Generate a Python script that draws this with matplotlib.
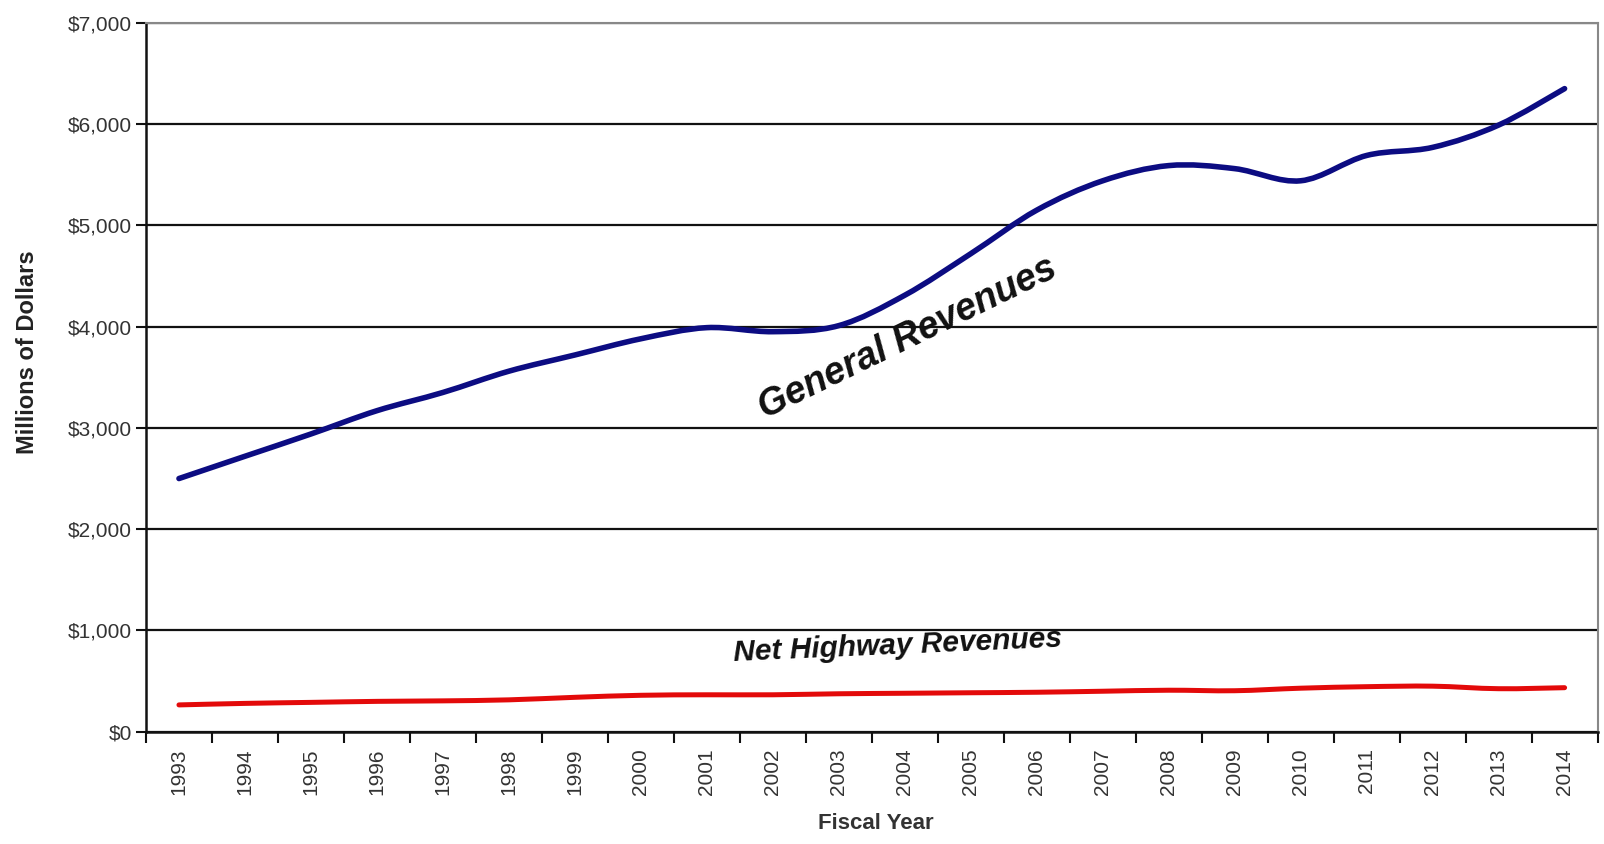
import numpy as np
import matplotlib
matplotlib.use('Agg')
import matplotlib.pyplot as plt
from matplotlib.path import Path
from matplotlib.patches import PathPatch
from matplotlib.ticker import FixedLocator, FuncFormatter

# ── data (millions of dollars) ──────────────────────────────────────────────
years = [str(y) for y in range(1993, 2015)]
general_rev = [2500, 2720, 2940, 3170, 3350, 3560, 3720, 3880, 3990, 3950,
               4010, 4310, 4720, 5150, 5440, 5590, 5560, 5440, 5690, 5770,
               5990, 6350]
highway_rev = [265, 280, 290, 300, 305, 315, 340, 360, 365, 365,
               375, 380, 385, 390, 400, 410, 405, 430, 445, 450,
               425, 435]


def smooth_path(xs, ys, tension=1 / 6):
    """Excel-style smoothed line: Catmull-Rom segments as cubic Beziers."""
    pts = np.column_stack([xs, ys]).astype(float)
    n = len(pts)
    verts = [pts[0]]
    codes = [Path.MOVETO]
    for i in range(n - 1):
        p0 = pts[i - 1] if i > 0 else pts[i]
        p1, p2 = pts[i], pts[i + 1]
        p3 = pts[i + 2] if i + 2 < n else pts[i + 1]
        c1 = p1 + (p2 - p0) * tension
        c2 = p2 - (p3 - p1) * tension
        verts += [c1, c2, p2]
        codes += [Path.CURVE4] * 3
    return Path(verts, codes)


plt.rcParams['font.family'] = ['Liberation Sans', 'DejaVu Sans']

fig = plt.figure(figsize=(16.04, 8.44), dpi=100)
ax = fig.add_axes([0.091, 0.133, 0.905, 0.840])

x = np.arange(len(years))
for vals, col, lw in [(general_rev, '#0c0c82', 4.0), (highway_rev, '#e30a0a', 3.6)]:
    ax.add_patch(PathPatch(smooth_path(x, vals), fill=False, edgecolor=col,
                           lw=lw, capstyle='round', joinstyle='round', zorder=3))

ax.set_xlim(-0.5, len(years) - 0.5)
ax.set_ylim(0, 7000)

# gridlines
ax.set_yticks(np.arange(0, 7001, 1000))
ax.yaxis.set_major_formatter(FuncFormatter(lambda v, p: f'${v:,.0f}'))
ax.grid(axis='y', color='#111111', lw=1.6, zorder=1)
ax.tick_params(axis='y', length=7, width=1.5, color='#111111',
               labelsize=15, labelcolor='#333333', pad=3)

# category axis: ticks between categories, labels centred
ax.xaxis.set_major_locator(FixedLocator(np.arange(-0.5, len(years), 1.0)))
ax.xaxis.set_major_formatter(FuncFormatter(lambda v, p: ''))
ax.xaxis.set_minor_locator(FixedLocator(x))
ax.set_xticks(x, years, minor=True)
ax.tick_params(axis='x', which='major', length=8, width=1.5, color='#111111')
ax.tick_params(axis='x', which='minor', length=0, labelsize=15,
               labelcolor='#333333', rotation=90, pad=12)

for side in ('left', 'bottom'):
    ax.spines[side].set_color('#111111')
    ax.spines[side].set_linewidth(1.8)
for side in ('top', 'right'):
    ax.spines[side].set_color('#888888')
    ax.spines[side].set_linewidth(1.5)

ax.set_ylabel('Millions of Dollars', fontsize=17, fontweight='bold',
              color='#222222')
ax.yaxis.set_label_coords(-0.074, 0.535)
fig.text(0.546, 0.024, 'Fiscal Year', fontsize=16, fontweight='bold',
         color='#333333', ha='center', va='center')

ax.text(11.05, 3880, 'General Revenues', fontsize=27, style='italic',
        fontweight='bold', rotation=26, ha='center', va='center',
        color='#111111')
ax.text(10.9, 850, 'Net Highway Revenues', fontsize=21.5, style='italic',
        fontweight='bold', rotation=2.5, ha='center', va='center',
        color='#111111')

fig.savefig('out.png', dpi=100)
